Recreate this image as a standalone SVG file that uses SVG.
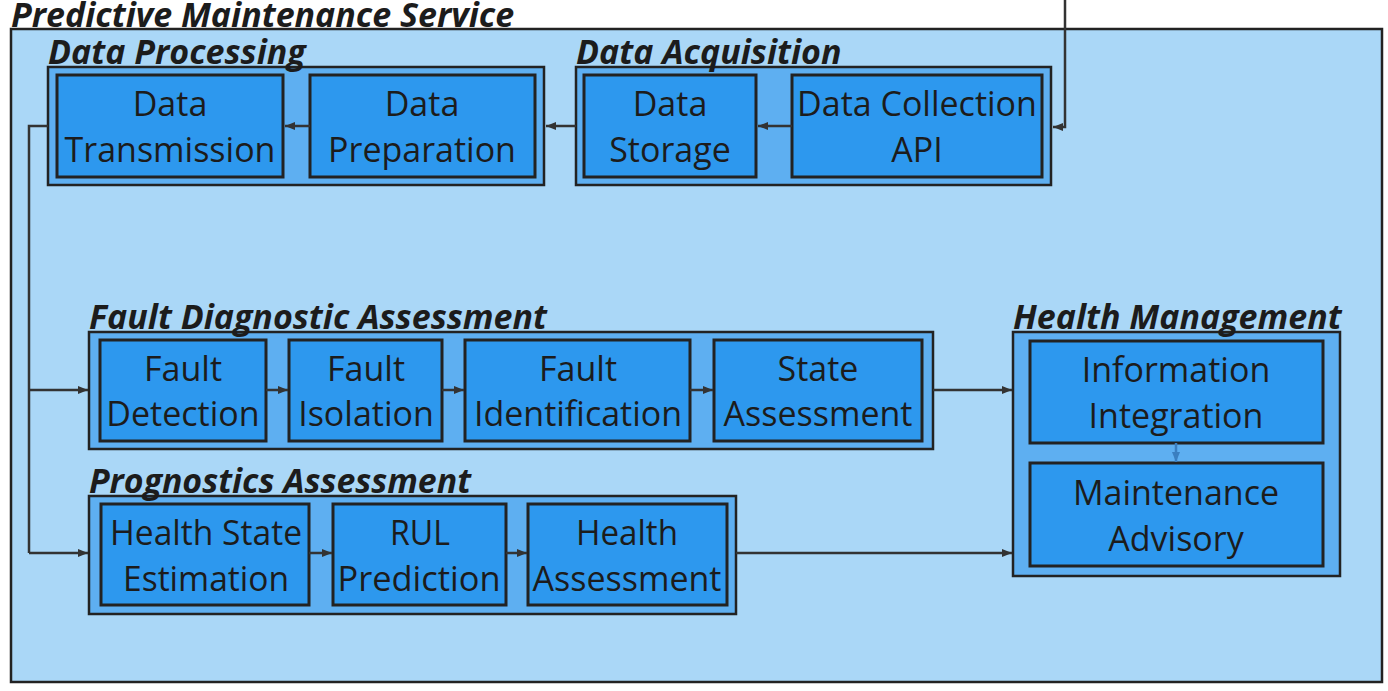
<svg xmlns="http://www.w3.org/2000/svg" width="1388" height="691" viewBox="0 0 1388 691">
<defs>
<marker id="ah" viewBox="0 0 10 10" refX="10" refY="5" markerWidth="10" markerHeight="10" markerUnits="userSpaceOnUse" orient="auto"><path d="M0,1 L10,5 L0,9 z" fill="#333"/></marker>
<marker id="ahb" viewBox="0 0 10 10" refX="10" refY="5" markerWidth="10" markerHeight="10" markerUnits="userSpaceOnUse" orient="auto"><path d="M0,1 L10,5 L0,9 z" fill="#3b7fc0"/></marker>
<style>
.outer{fill:#aad7f7;stroke:#222;stroke-width:2.5}
.grp{fill:#5eaff1;stroke:#222;stroke-width:2.5}
.node{fill:#2d98ee;stroke:#222;stroke-width:3}
.t{font-family:"Open Sans","Noto Sans",sans-serif;font-size:34px;fill:#1c1c1c;text-anchor:middle}
.ti{font-family:"Open Sans","Noto Sans",sans-serif;font-size:34px;font-weight:bold;font-style:italic;fill:#1c1c1c}
.c{fill:none;stroke:#333;stroke-width:2.5;marker-end:url(#ah)}
.cn{fill:none;stroke:#333;stroke-width:2.5}
</style>
</defs>
<g id="predictive-maintenance-service">
<rect class="outer" x="11" y="29" width="1371" height="653"/>
<text class="ti" x="11" y="27">Predictive Maintenance Service</text>
</g>
<g id="data-processing">
<rect class="grp" x="48" y="67" width="496" height="118"/>
<text class="ti" x="48" y="64">Data Processing</text>
</g>
<g id="data-acquisition">
<rect class="grp" x="576" y="67" width="475" height="118"/>
<text class="ti" x="576" y="64">Data Acquisition</text>
</g>
<g id="fault-diagnostic-assessment">
<rect class="grp" x="89" y="332" width="844" height="117"/>
<text class="ti" x="89" y="329">Fault Diagnostic Assessment</text>
</g>
<g id="prognostics-assessment">
<rect class="grp" x="89" y="496" width="647" height="118"/>
<text class="ti" x="89" y="493" textLength="382" lengthAdjust="spacingAndGlyphs">Prognostics Assessment</text>
</g>
<g id="health-management">
<rect class="grp" x="1013" y="332" width="327" height="244"/>
<text class="ti" x="1013" y="329">Health Management</text>
</g>
<g id="data-transmission">
<rect class="node" x="57" y="75" width="226" height="102"/>
<text class="t" x="170" y="116">Data</text><text class="t" x="170" y="162">Transmission</text>
</g>
<g id="data-preparation">
<rect class="node" x="310" y="75" width="225" height="102"/>
<text class="t" x="422" y="116">Data</text><text class="t" x="422" y="162">Preparation</text>
</g>
<g id="data-storage">
<rect class="node" x="584" y="75" width="172" height="102"/>
<text class="t" x="670" y="116">Data</text><text class="t" x="670" y="162">Storage</text>
</g>
<g id="data-collection-api">
<rect class="node" x="792" y="75" width="250" height="102"/>
<text class="t" x="917" y="116">Data Collection</text><text class="t" x="917" y="162">API</text>
</g>
<g id="fault-detection">
<rect class="node" x="100" y="340" width="166" height="101"/>
<text class="t" x="183" y="381">Fault</text><text class="t" x="183" y="426">Detection</text>
</g>
<g id="fault-isolation">
<rect class="node" x="289" y="340" width="153" height="101"/>
<text class="t" x="366" y="381">Fault</text><text class="t" x="366" y="426">Isolation</text>
</g>
<g id="fault-identification">
<rect class="node" x="465" y="340" width="225" height="101"/>
<text class="t" x="578" y="381">Fault</text><text class="t" x="578" y="426">Identification</text>
</g>
<g id="state-assessment">
<rect class="node" x="714" y="340" width="208" height="101"/>
<text class="t" x="818" y="381">State</text><text class="t" x="818" y="426">Assessment</text>
</g>
<g id="information-integration">
<rect class="node" x="1030" y="341" width="293" height="102"/>
<text class="t" x="1176" y="382">Information</text><text class="t" x="1176" y="428">Integration</text>
</g>
<g id="maintenance-advisory">
<rect class="node" x="1030" y="463" width="293" height="103"/>
<text class="t" x="1176" y="505">Maintenance</text><text class="t" x="1176" y="551">Advisory</text>
</g>
<g id="health-state-estimation">
<rect class="node" x="101" y="504" width="208" height="101"/>
<text class="t" x="206" y="545" textLength="192" lengthAdjust="spacingAndGlyphs">Health State</text><text class="t" x="206" y="591" textLength="166" lengthAdjust="spacingAndGlyphs">Estimation</text>
</g>
<g id="rul-prediction">
<rect class="node" x="333" y="504" width="173" height="101"/>
<text class="t" x="420" y="545" textLength="60" lengthAdjust="spacingAndGlyphs">RUL</text><text class="t" x="419" y="591" textLength="163" lengthAdjust="spacingAndGlyphs">Prediction</text>
</g>
<g id="health-assessment">
<rect class="node" x="528" y="504" width="199" height="101"/>
<text class="t" x="627" y="545" textLength="102" lengthAdjust="spacingAndGlyphs">Health</text><text class="t" x="627" y="591" textLength="189" lengthAdjust="spacingAndGlyphs">Assessment</text>
</g>
<g id="connectors">
<path class="c" d="M1065,0 V127 H1053"/>
<path class="c" d="M792,126 H758"/>
<path class="c" d="M576,126 H546"/>
<path class="c" d="M310,126 H285"/>
<path class="cn" d="M48,126 H29 V553"/>
<path class="c" d="M29,390 H88"/>
<path class="c" d="M29,553 H88"/>
<path class="c" d="M266,390 H288"/>
<path class="c" d="M442,390 H464"/>
<path class="c" d="M690,390 H713"/>
<path class="c" d="M933,390 H1012"/>
<path class="c" d="M309,553 H332"/>
<path class="c" d="M506,553 H527"/>
<path class="c" d="M736,553 H1012"/>
<path fill="none" stroke="#3b7fc0" stroke-width="2.5" marker-end="url(#ahb)" d="M1176,443 V462"/>
</g>
</svg>
